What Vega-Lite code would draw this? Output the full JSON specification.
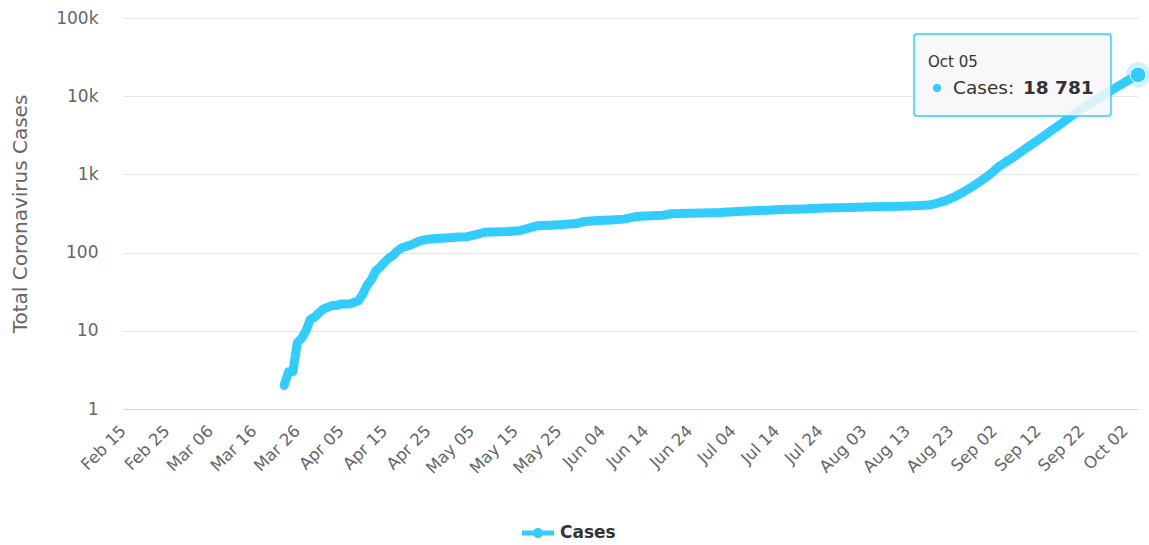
{
  "$schema": "https://vega.github.io/schema/vega-lite/v6.json",
  "width": 1015,
  "height": 391,
  "autosize": {"type": "none"},
  "padding": {"left": 123, "top": 18, "right": 11, "bottom": 136},
  "background": "#ffffff",
  "config": {"font": "DejaVu Sans", "view": {"stroke": null}},
  "data": {
    "values": [
      {"date": "2020-03-23", "cases": 2, "series": "Cases"},
      {"date": "2020-03-24", "cases": 3, "series": "Cases"},
      {"date": "2020-03-25", "cases": 3, "series": "Cases"},
      {"date": "2020-03-26", "cases": 7, "series": "Cases"},
      {"date": "2020-03-27", "cases": 8, "series": "Cases"},
      {"date": "2020-03-28", "cases": 10, "series": "Cases"},
      {"date": "2020-03-29", "cases": 14, "series": "Cases"},
      {"date": "2020-03-30", "cases": 15, "series": "Cases"},
      {"date": "2020-03-31", "cases": 17, "series": "Cases"},
      {"date": "2020-04-01", "cases": 19, "series": "Cases"},
      {"date": "2020-04-02", "cases": 20, "series": "Cases"},
      {"date": "2020-04-03", "cases": 21, "series": "Cases"},
      {"date": "2020-04-04", "cases": 21, "series": "Cases"},
      {"date": "2020-04-05", "cases": 22, "series": "Cases"},
      {"date": "2020-04-06", "cases": 22, "series": "Cases"},
      {"date": "2020-04-07", "cases": 22, "series": "Cases"},
      {"date": "2020-04-08", "cases": 23, "series": "Cases"},
      {"date": "2020-04-09", "cases": 24, "series": "Cases"},
      {"date": "2020-04-10", "cases": 29, "series": "Cases"},
      {"date": "2020-04-11", "cases": 38, "series": "Cases"},
      {"date": "2020-04-12", "cases": 45, "series": "Cases"},
      {"date": "2020-04-13", "cases": 58, "series": "Cases"},
      {"date": "2020-04-14", "cases": 65, "series": "Cases"},
      {"date": "2020-04-15", "cases": 75, "series": "Cases"},
      {"date": "2020-04-16", "cases": 85, "series": "Cases"},
      {"date": "2020-04-17", "cases": 92, "series": "Cases"},
      {"date": "2020-04-18", "cases": 105, "series": "Cases"},
      {"date": "2020-04-19", "cases": 115, "series": "Cases"},
      {"date": "2020-04-20", "cases": 120, "series": "Cases"},
      {"date": "2020-04-21", "cases": 125, "series": "Cases"},
      {"date": "2020-04-22", "cases": 132, "series": "Cases"},
      {"date": "2020-04-23", "cases": 140, "series": "Cases"},
      {"date": "2020-04-24", "cases": 145, "series": "Cases"},
      {"date": "2020-04-25", "cases": 148, "series": "Cases"},
      {"date": "2020-04-27", "cases": 151, "series": "Cases"},
      {"date": "2020-04-30", "cases": 155, "series": "Cases"},
      {"date": "2020-05-02", "cases": 158, "series": "Cases"},
      {"date": "2020-05-04", "cases": 160, "series": "Cases"},
      {"date": "2020-05-06", "cases": 170, "series": "Cases"},
      {"date": "2020-05-08", "cases": 182, "series": "Cases"},
      {"date": "2020-05-10", "cases": 184, "series": "Cases"},
      {"date": "2020-05-13", "cases": 186, "series": "Cases"},
      {"date": "2020-05-16", "cases": 190, "series": "Cases"},
      {"date": "2020-05-18", "cases": 205, "series": "Cases"},
      {"date": "2020-05-20", "cases": 220, "series": "Cases"},
      {"date": "2020-05-23", "cases": 224, "series": "Cases"},
      {"date": "2020-05-26", "cases": 228, "series": "Cases"},
      {"date": "2020-05-29", "cases": 235, "series": "Cases"},
      {"date": "2020-05-31", "cases": 250, "series": "Cases"},
      {"date": "2020-06-03", "cases": 258, "series": "Cases"},
      {"date": "2020-06-06", "cases": 262, "series": "Cases"},
      {"date": "2020-06-09", "cases": 268, "series": "Cases"},
      {"date": "2020-06-12", "cases": 290, "series": "Cases"},
      {"date": "2020-06-15", "cases": 295, "series": "Cases"},
      {"date": "2020-06-18", "cases": 300, "series": "Cases"},
      {"date": "2020-06-20", "cases": 315, "series": "Cases"},
      {"date": "2020-06-24", "cases": 318, "series": "Cases"},
      {"date": "2020-06-27", "cases": 320, "series": "Cases"},
      {"date": "2020-07-01", "cases": 325, "series": "Cases"},
      {"date": "2020-07-05", "cases": 335, "series": "Cases"},
      {"date": "2020-07-10", "cases": 345, "series": "Cases"},
      {"date": "2020-07-15", "cases": 355, "series": "Cases"},
      {"date": "2020-07-20", "cases": 362, "series": "Cases"},
      {"date": "2020-07-25", "cases": 372, "series": "Cases"},
      {"date": "2020-07-31", "cases": 378, "series": "Cases"},
      {"date": "2020-08-05", "cases": 385, "series": "Cases"},
      {"date": "2020-08-10", "cases": 390, "series": "Cases"},
      {"date": "2020-08-15", "cases": 398, "series": "Cases"},
      {"date": "2020-08-18", "cases": 405, "series": "Cases"},
      {"date": "2020-08-20", "cases": 430, "series": "Cases"},
      {"date": "2020-08-22", "cases": 465, "series": "Cases"},
      {"date": "2020-08-24", "cases": 520, "series": "Cases"},
      {"date": "2020-08-26", "cases": 600, "series": "Cases"},
      {"date": "2020-08-28", "cases": 700, "series": "Cases"},
      {"date": "2020-08-30", "cases": 830, "series": "Cases"},
      {"date": "2020-09-01", "cases": 1000, "series": "Cases"},
      {"date": "2020-09-03", "cases": 1250, "series": "Cases"},
      {"date": "2020-09-05", "cases": 1480, "series": "Cases"},
      {"date": "2020-09-07", "cases": 1750, "series": "Cases"},
      {"date": "2020-09-09", "cases": 2100, "series": "Cases"},
      {"date": "2020-09-11", "cases": 2500, "series": "Cases"},
      {"date": "2020-09-13", "cases": 3000, "series": "Cases"},
      {"date": "2020-09-15", "cases": 3600, "series": "Cases"},
      {"date": "2020-09-17", "cases": 4300, "series": "Cases"},
      {"date": "2020-09-19", "cases": 5200, "series": "Cases"},
      {"date": "2020-09-21", "cases": 6300, "series": "Cases"},
      {"date": "2020-09-23", "cases": 7500, "series": "Cases"},
      {"date": "2020-09-25", "cases": 8700, "series": "Cases"},
      {"date": "2020-09-27", "cases": 10000, "series": "Cases"},
      {"date": "2020-09-29", "cases": 12000, "series": "Cases"},
      {"date": "2020-10-01", "cases": 14000, "series": "Cases"},
      {"date": "2020-10-03", "cases": 16300, "series": "Cases"},
      {"date": "2020-10-05", "cases": 18781, "series": "Cases"}
    ]
  },
  "layer": [
    {
      "mark": {"type": "line", "strokeWidth": 9, "strokeCap": "round", "strokeJoin": "round"},
      "encoding": {
        "x": {
          "field": "date",
          "type": "temporal",
          "scale": {
            "type": "utc",
            "domain": [
              {"year": 2020, "month": 2, "date": 15, "utc": true},
              {"year": 2020, "month": 10, "date": 5, "utc": true}
            ]
          },
          "axis": {
            "title": null,
            "values": [
              {"year": 2020, "month": 2, "date": 15, "utc": true},
              {"year": 2020, "month": 2, "date": 25, "utc": true},
              {"year": 2020, "month": 3, "date": 6, "utc": true},
              {"year": 2020, "month": 3, "date": 16, "utc": true},
              {"year": 2020, "month": 3, "date": 26, "utc": true},
              {"year": 2020, "month": 4, "date": 5, "utc": true},
              {"year": 2020, "month": 4, "date": 15, "utc": true},
              {"year": 2020, "month": 4, "date": 25, "utc": true},
              {"year": 2020, "month": 5, "date": 5, "utc": true},
              {"year": 2020, "month": 5, "date": 15, "utc": true},
              {"year": 2020, "month": 5, "date": 25, "utc": true},
              {"year": 2020, "month": 6, "date": 4, "utc": true},
              {"year": 2020, "month": 6, "date": 14, "utc": true},
              {"year": 2020, "month": 6, "date": 24, "utc": true},
              {"year": 2020, "month": 7, "date": 4, "utc": true},
              {"year": 2020, "month": 7, "date": 14, "utc": true},
              {"year": 2020, "month": 7, "date": 24, "utc": true},
              {"year": 2020, "month": 8, "date": 3, "utc": true},
              {"year": 2020, "month": 8, "date": 13, "utc": true},
              {"year": 2020, "month": 8, "date": 23, "utc": true},
              {"year": 2020, "month": 9, "date": 2, "utc": true},
              {"year": 2020, "month": 9, "date": 12, "utc": true},
              {"year": 2020, "month": 9, "date": 22, "utc": true},
              {"year": 2020, "month": 10, "date": 2, "utc": true}
            ],
            "format": "%b %d",
            "labelAngle": -45,
            "labelAlign": "right",
            "labelBaseline": "middle",
            "labelPadding": 19,
            "labelFontSize": 16.5,
            "labelColor": "#666666",
            "labelFlush": false,
            "labelOverlap": false,
            "grid": false,
            "ticks": false,
            "tickSize": 0,
            "domainColor": "#ccd6eb",
            "domainWidth": 1
          }
        },
        "y": {
          "field": "cases",
          "type": "quantitative",
          "scale": {"type": "log", "domain": [1, 100000]},
          "axis": {
            "values": [1, 10, 100, 1000, 10000, 100000],
            "labelExpr": "datum.value >= 1000 ? (datum.value / 1000) + 'k' : datum.value + ''",
            "grid": true,
            "gridColor": "#e6e6e6",
            "gridWidth": 1,
            "domain": false,
            "ticks": false,
            "tickSize": 0,
            "labelPadding": 25,
            "labelFontSize": 17,
            "labelColor": "#666666",
            "labelFlush": false,
            "labelOverlap": false,
            "title": "Total Coronavirus Cases",
            "titleFontSize": 20,
            "titleFontWeight": "normal",
            "titleColor": "#666666",
            "titlePadding": 25
          }
        },
        "color": {
          "field": "series",
          "type": "nominal",
          "scale": {"range": ["#33ccff"]},
          "legend": {
            "orient": "none",
            "legendX": 399,
            "legendY": 499,
            "title": null,
            "padding": 0,
            "symbolType": "M -1 -0.16 L 1 -0.16 L 1 0.16 L -1 0.16 Z M -0.32 0 A 0.32 0.32 0 1 1 0.32 0 A 0.32 0.32 0 1 1 -0.32 0 Z",
            "symbolSize": 1024,
            "labelFontSize": 17,
            "labelFontWeight": "bold",
            "labelColor": "#333333",
            "labelOffset": 6,
            "encode": {
              "symbols": {
                "update": {
                  "fill": {"value": "#33ccff"},
                  "stroke": {"value": "#33ccff"},
                  "strokeWidth": {"value": 0},
                  "opacity": {"value": 1}
                }
              }
            }
          }
        }
      }
    },
    {
      "data": {"values": [{}]},
      "mark": {"type": "rect", "fill": "#f7f7f7", "fillOpacity": 0.85, "stroke": "#33ccff", "strokeWidth": 1.5, "cornerRadius": 3},
      "encoding": {
        "x": {"datum": {"year": 2020, "month": 8, "date": 14, "hours": 14, "utc": true}},
        "x2": {"datum": {"year": 2020, "month": 9, "date": 28, "hours": 19, "utc": true}},
        "y": {"datum": 62400},
        "y2": {"datum": 5580}
      }
    },
    {
      "data": {"values": [{}]},
      "mark": {"type": "text", "text": "Oct 05", "align": "left", "baseline": "alphabetic", "fontSize": 15, "fill": "#333333"},
      "encoding": {
        "x": {"datum": {"year": 2020, "month": 8, "date": 17, "hours": 19, "utc": true}},
        "y": {"datum": 23630}
      }
    },
    {
      "data": {"values": [{}]},
      "mark": {"type": "point", "shape": "circle", "filled": true, "size": 64, "fill": "#33ccff", "opacity": 1},
      "encoding": {
        "x": {"datum": {"year": 2020, "month": 8, "date": 19, "hours": 21, "utc": true}},
        "y": {"datum": 12740}
      }
    },
    {
      "data": {"values": [{}]},
      "mark": {"type": "text", "text": "Cases:", "align": "left", "baseline": "alphabetic", "fontSize": 18.5, "fill": "#333333"},
      "encoding": {
        "x": {"datum": {"year": 2020, "month": 8, "date": 23, "hours": 13, "utc": true}},
        "y": {"datum": 10670}
      }
    },
    {
      "data": {"values": [{}]},
      "mark": {"type": "text", "text": "18 781", "align": "left", "baseline": "alphabetic", "fontSize": 18.5, "fontWeight": "bold", "fill": "#333333"},
      "encoding": {
        "x": {"datum": {"year": 2020, "month": 9, "date": 8, "hours": 14, "utc": true}},
        "y": {"datum": 10670}
      }
    },
    {
      "transform": [{"filter": "datum.cases == 18781"}],
      "mark": {"type": "point", "shape": "circle", "filled": true, "size": 620, "fill": "#33ccff", "opacity": 0.25},
      "encoding": {
        "x": {"field": "date", "type": "temporal"},
        "y": {"field": "cases", "type": "quantitative"}
      }
    },
    {
      "transform": [{"filter": "datum.cases == 18781"}],
      "mark": {"type": "point", "shape": "circle", "filled": true, "size": 250, "fill": "#33ccff", "stroke": "#ffffff", "strokeWidth": 1, "opacity": 1},
      "encoding": {
        "x": {"field": "date", "type": "temporal"},
        "y": {"field": "cases", "type": "quantitative"}
      }
    }
  ]
}
